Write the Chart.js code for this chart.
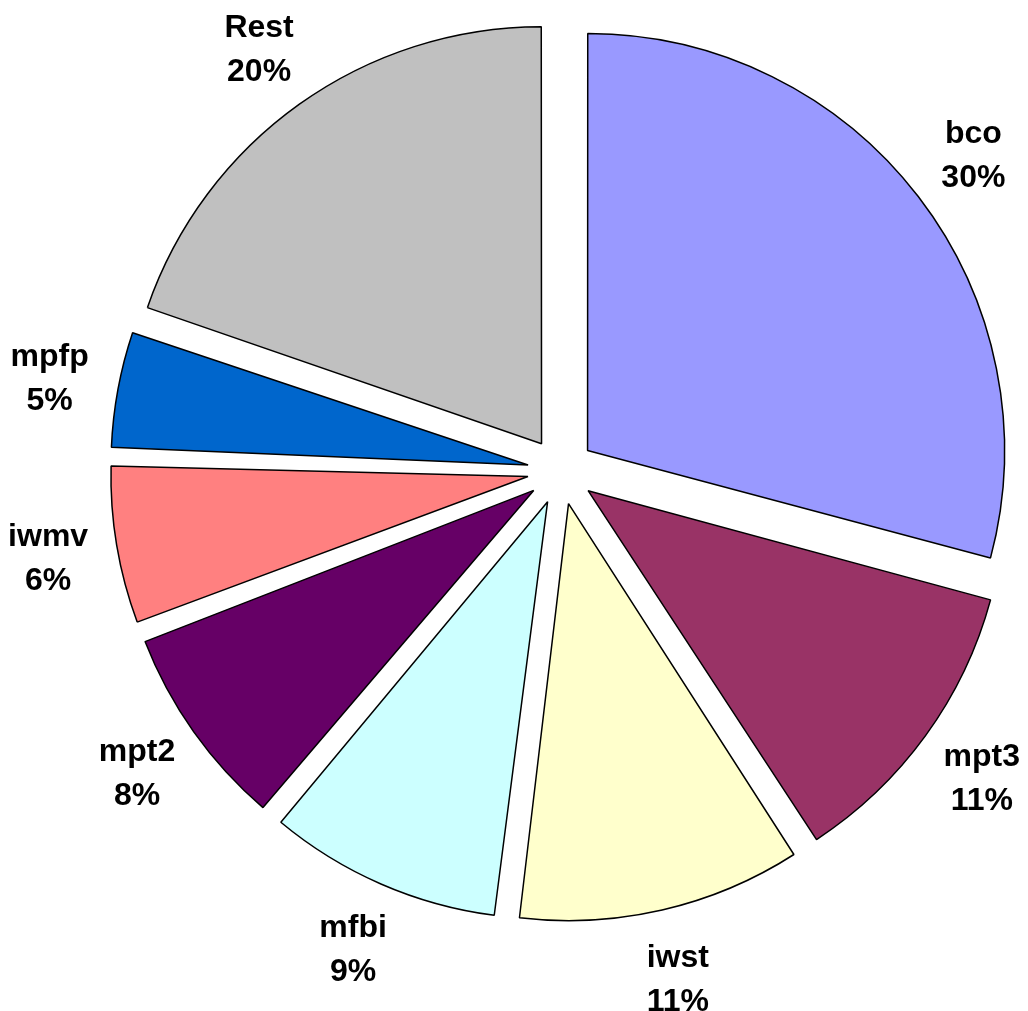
<!DOCTYPE html>
<html>
<head>
<meta charset="utf-8">
<title>Pie</title>
<script src="https://cdn.jsdelivr.net/npm/chart.js@4.4.1/dist/chart.umd.min.js"></script>
<style>
  html, body { margin: 0; padding: 0; background: #fff; }
  #wrap { width: 1028px; height: 1011px; }
</style>
</head>
<body>
<div id="wrap"><canvas id="pieChart" width="1028" height="1011"></canvas></div>
<script>
// slice names, clockwise from 12 o'clock
const labels = ['bco', 'mpt3', 'iwst', 'mfbi', 'mpt2', 'iwmv', 'mpfp', 'Rest'];
// shares (%)
const shares = [29.15, 11.69, 11.11, 9.19, 8.06, 6.33, 4.75, 19.72];
// percentages as printed next to the slices
const pctLabels = ['30%', '11%', '11%', '9%', '8%', '6%', '5%', '20%'];
const colors = ['#9999FF', '#993366', '#FFFFCC', '#CCFFFF', '#660066', '#FF8080', '#0066CC', '#C0C0C0'];

const RADIUS = 417;
const OFFSET = 134; // chart.js moves each slice out by offset / 4

// chart.js also grows narrow exploded slices a bit; keep all slices the same size
const evenRadius = {
    id: 'evenRadius',
    afterDatasetUpdate(chart, args) {
        args.meta.data.forEach(arc => {
            const fix = 1 - Math.sin(Math.min(Math.PI, arc.circumference));
            arc.outerRadius = RADIUS - (OFFSET / 4) * fix;
        });
    }
};

// two-line label (name / percent) outside each slice
const outsideLabels = {
    id: 'outsideLabels',
    afterDatasetsDraw(chart) {
        const ctx = chart.ctx;
        const meta = chart.getDatasetMeta(0);
        ctx.save();
        ctx.font = 'bold 32px "Liberation Sans", Arial, sans-serif';
        ctx.fillStyle = '#000';
        ctx.textAlign = 'center';
        ctx.textBaseline = 'alphabetic';
        meta.data.forEach((arc, i) => {
            const p = arc.getProps(['x', 'y', 'startAngle', 'endAngle'], true);
            const mid = (p.startAngle + p.endAngle) / 2;
            const lx = p.x + Math.cos(mid) * 520;
            const ly = p.y + Math.sin(mid) * 520;
            ctx.fillText(labels[i], lx, ly - 11);
            ctx.fillText(pctLabels[i], lx, ly + 33);
        });
        ctx.restore();
    }
};

new Chart(document.getElementById('pieChart').getContext('2d'), {
    type: 'pie',
    data: {
        labels: labels,
        datasets: [{
            data: shares,
            backgroundColor: colors,
            borderColor: '#000',
            borderWidth: 1.5,
            offset: OFFSET
        }]
    },
    options: {
        responsive: false,
        animation: false,
        radius: RADIUS,
        layout: { padding: { left: 94, right: 0, top: 0, bottom: 69 } },
        plugins: {
            legend: { display: false },
            tooltip: { enabled: false }
        }
    },
    plugins: [evenRadius, outsideLabels]
});
</script>
</body>
</html>
